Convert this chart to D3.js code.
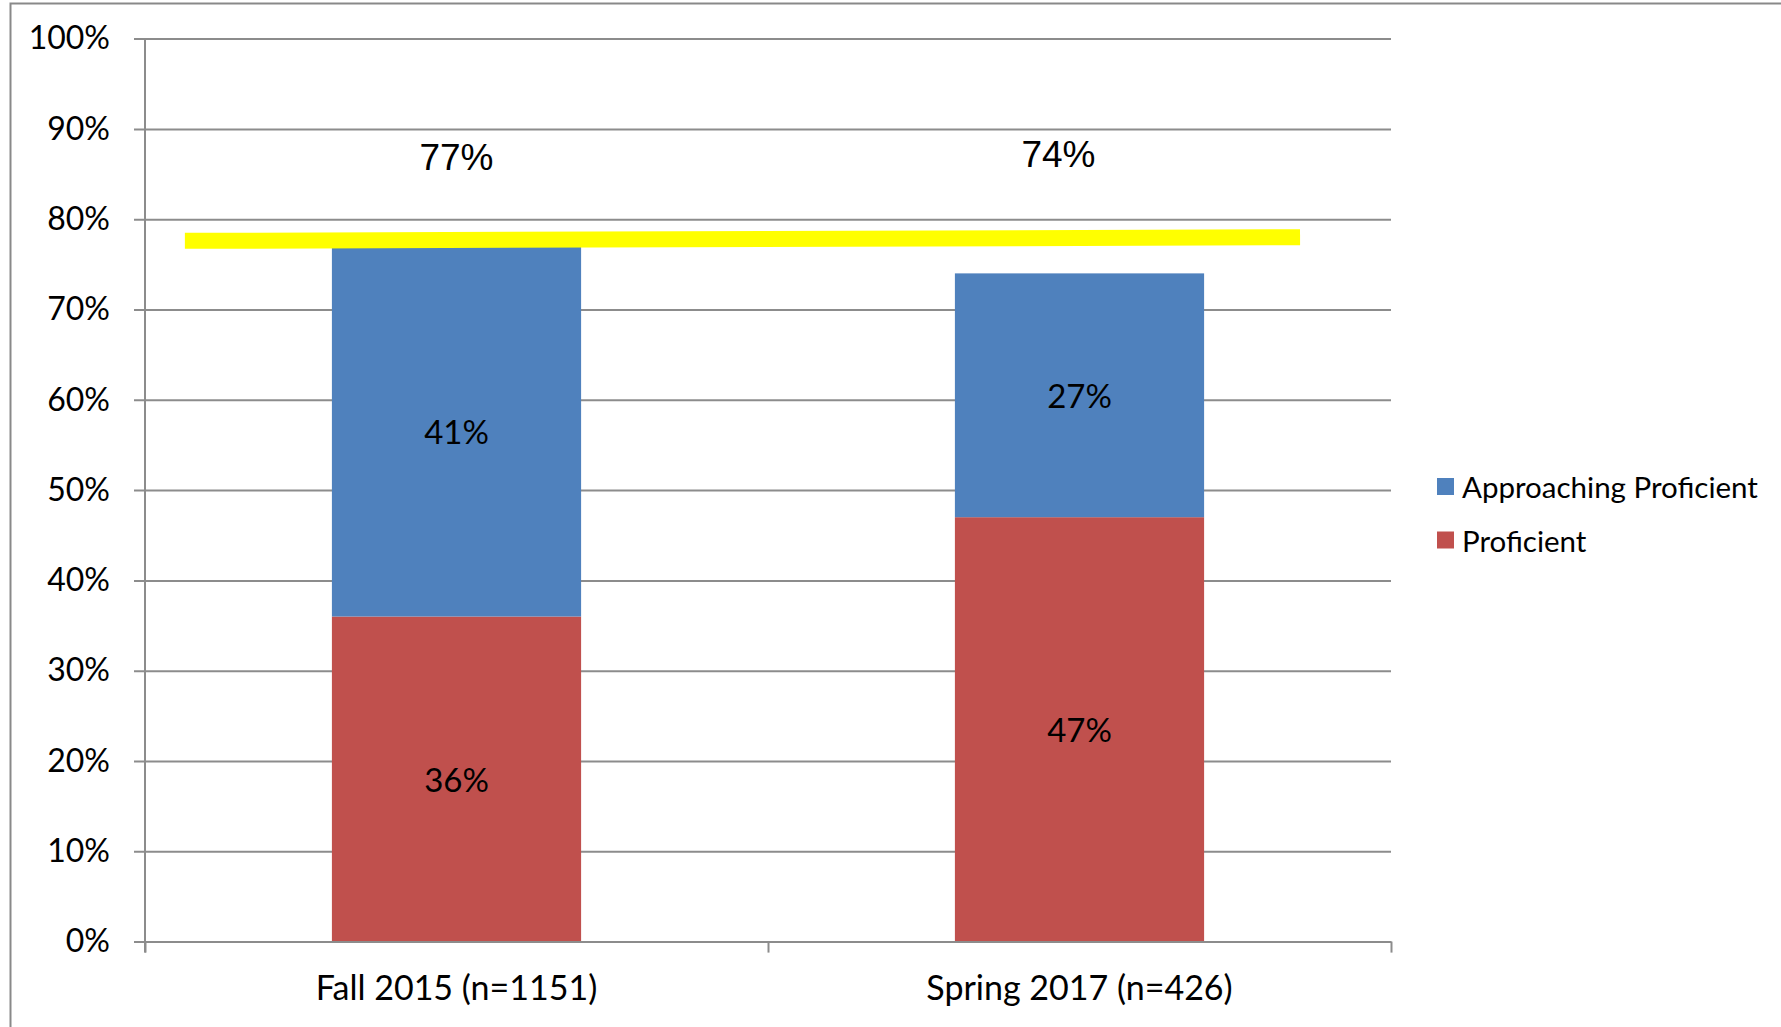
<!DOCTYPE html>
<html>
<head>
<meta charset="utf-8">
<script src="https://cdn.jsdelivr.net/npm/d3@7"></script>
<style>
  body { margin: 0; background: #fff; }
  text { font-family: Lato, "Open Sans", sans-serif; fill: #000; }
</style>
</head>
<body>
<svg id="chart" width="1781" height="1027"></svg>
<script>
// data
const categories = ['Fall 2015 (n=1151)', 'Spring 2017 (n=426)'];
const proficient = [0.36, 0.47];
const approaching = [0.41, 0.27];
const totalLabels = ['77%', '74%'];
const totalLabelValues = [0.868, 0.872];
const totalLabelShift = [0, -21];
const yTicks = [0, 0.1, 0.2, 0.3, 0.4, 0.5, 0.6, 0.7, 0.8, 0.9, 1.0];
// yellow target line, x in category units (0..2), y in share
const targetLine = [{x: 0.064, y: 0.776}, {x: 1.854, y: 0.780}];
const seriesNames = ['Approaching Proficient', 'Proficient'];
const seriesColors = ['#4F81BD', '#C0504D'];

const W = 1781, H = 1027;
const plotL = 145, plotR = 1391, plotT = 38.6, plotB = 941.6;

const svg = d3.select('#chart');

// outer frame (only left/top edges visible)
svg.append('rect')
  .attr('x', 10.5).attr('y', 3.5)
  .attr('width', W + 20).attr('height', H + 20)
  .attr('fill', 'none').attr('stroke', '#898989').attr('stroke-width', 2);

const y = d3.scaleLinear().domain([0, 1]).range([plotB, plotT]);
const x = d3.scaleBand().domain(categories).range([plotL, plotR])
  .paddingInner(0.6).paddingOuter(0.3);
const xPos = d3.scaleLinear().domain([0, 2]).range([plotL, plotR]);

// gridlines + y labels
const yAxis = d3.axisLeft(y)
  .tickValues(yTicks)
  .tickFormat(d3.format('.0%'))
  .tickSize(-(plotR - plotL + 11))
  .tickPadding(24);

const gy = svg.append('g')
  .attr('transform', `translate(${plotL - 11},0)`)
  .call(yAxis);
gy.select('.domain').remove();
gy.selectAll('line').attr('stroke', '#8c8c8c').attr('stroke-width', 2);
gy.selectAll('text')
  .style('font-size', '32px')
  .attr('fill', '#000');

// stacked bars
const rows = categories.map((c, i) => ({key: c, Proficient: proficient[i], 'Approaching Proficient': approaching[i]}));
const stack = d3.stack().keys(['Proficient', 'Approaching Proficient']);
const stacked = stack(rows);
const color = d3.scaleOrdinal().domain(seriesNames).range(seriesColors);

const layers = svg.append('g').selectAll('g')
  .data(stacked)
  .join('g')
  .attr('fill', (d) => color(d.key));

layers.selectAll('rect')
  .data((d) => d)
  .join('rect')
  .attr('x', (d) => x(d.data.key))
  .attr('width', x.bandwidth())
  .attr('y', (d) => y(d[1]))
  .attr('height', (d) => y(d[0]) - y(d[1]));

layers.selectAll('text')
  .data((d) => d)
  .join('text')
  .attr('x', (d) => x(d.data.key) + x.bandwidth() / 2)
  .attr('y', (d) => y((d[0] + d[1]) / 2))
  .attr('text-anchor', 'middle')
  .attr('dominant-baseline', 'central')
  .style('font-size', '33px')
  .text((d) => d3.format('.0%')(d[1] - d[0]));

// y axis line
svg.append('line')
  .attr('x1', plotL).attr('x2', plotL)
  .attr('y1', plotT).attr('y2', plotB + 11)
  .attr('stroke', '#8c8c8c').attr('stroke-width', 2);

// x axis with boundary ticks
const gx = svg.append('g')
  .attr('transform', `translate(0,${plotB})`)
  .call(d3.axisBottom(xPos).tickValues([0, 1, 2]).tickFormat('').tickSize(11).tickSizeOuter(0));
gx.selectAll('path, line').attr('stroke', '#8c8c8c').attr('stroke-width', 2);

// category labels
const gc = svg.append('g')
  .attr('transform', `translate(0,${plotB})`)
  .call(d3.axisBottom(x).tickSize(0).tickPadding(34));
gc.select('.domain').remove();
gc.selectAll('text').style('font-size', '34px').attr('fill', '#000');

// yellow target line
svg.append('path')
  .datum(targetLine)
  .attr('d', d3.line().x((d) => xPos(d.x)).y((d) => y(d.y)))
  .attr('stroke', '#FFFF00').attr('stroke-width', 16).attr('fill', 'none');

// total labels
svg.append('g').selectAll('text')
  .data(categories)
  .join('text')
  .attr('x', (d, i) => x(d) + x.bandwidth() / 2 + totalLabelShift[i])
  .attr('y', (d, i) => y(totalLabelValues[i]))
  .attr('text-anchor', 'middle')
  .attr('dominant-baseline', 'central')
  .style('font-family', '"Liberation Sans", Arial, sans-serif')
  .style('font-size', '37px')
  .text((d, i) => totalLabels[i]);

// legend
const legend = svg.append('g').attr('transform', 'translate(1437,478)');
const li = legend.selectAll('g')
  .data(seriesNames)
  .join('g')
  .attr('transform', (d, i) => `translate(0,${i * 53.5})`);
li.append('rect')
  .attr('width', 17).attr('height', 17)
  .attr('fill', (d) => color(d));
li.append('text')
  .attr('x', 25).attr('y', 8.5)
  .attr('dominant-baseline', 'central')
  .style('font-size', '29.5px')
  .text((d) => d);
</script>
</body>
</html>
